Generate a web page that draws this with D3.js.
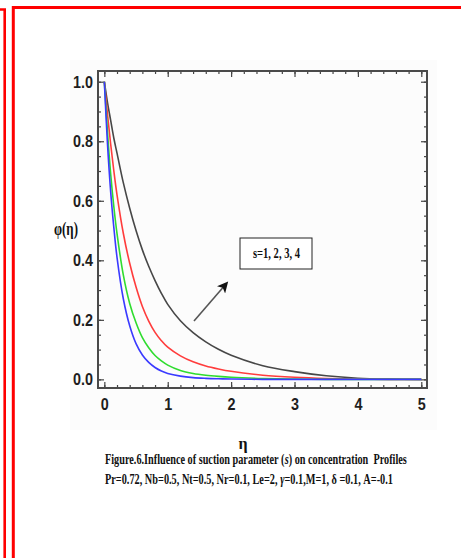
<!DOCTYPE html>
<html>
<head>
<meta charset="utf-8">
<script src="https://cdn.jsdelivr.net/npm/d3@7/dist/d3.min.js"></script>
<style>
	html, body { margin: 0; padding: 0; background: #fff; }
	svg { display: block; }
	.tick-label { font-family: "Liberation Sans Narrow", "Liberation Sans", "DejaVu Sans Condensed", sans-serif; font-weight: bold; fill: #1e1e1e; }
	.caption { font-family: "Liberation Serif", "DejaVu Serif", serif; font-weight: bold; fill: #111; }
</style>
</head>
<body>
<div id="chart"></div>
<script>
// eta grid and concentration profiles
const eta = [0, 0.05, 0.1, 0.15, 0.2, 0.3, 0.4, 0.5, 0.6, 0.7, 0.8, 0.9, 1.0, 1.2, 1.4, 1.6, 1.8, 2.0, 2.5, 3.0, 3.5, 4.0, 4.5, 5.0];
const phiBlue = [1, 0.79, 0.63, 0.51, 0.41, 0.27, 0.18, 0.12, 0.082, 0.057, 0.04, 0.028, 0.02, 0.011, 0.006, 0.0035, 0.002, 0.001, 0, 0, 0, 0, 0, 0];
const phiGreen = [1, 0.83, 0.69, 0.58, 0.49, 0.35, 0.255, 0.19, 0.14, 0.106, 0.08, 0.062, 0.048, 0.03, 0.02, 0.014, 0.01, 0.007, 0.003, 0.001, 0, 0, 0, 0];
const phiRed = [1, 0.89, 0.79, 0.70, 0.62, 0.49, 0.39, 0.31, 0.245, 0.196, 0.158, 0.13, 0.108, 0.079, 0.059, 0.045, 0.035, 0.027, 0.014, 0.007, 0.003, 0.001, 0, 0];
const phiBlack = [1, 0.93, 0.87, 0.81, 0.76, 0.66, 0.575, 0.50, 0.435, 0.38, 0.332, 0.289, 0.252, 0.197, 0.157, 0.126, 0.101, 0.081, 0.046, 0.026, 0.012, 0.004, 0.001, 0];

const xMajor = [0, 1, 2, 3, 4, 5];
const yMajor = [0, 0.2, 0.4, 0.6, 0.8, 1.0];
const xMinor = d3.range(0, 51, 2).map(d => d / 10);
const yMinor = d3.range(0, 21).map(d => d / 20);

const series = [
	{ name: "s=1", values: phiBlue, color: "#3a3aff" },
	{ name: "s=2", values: phiGreen, color: "#2fdc2f" },
	{ name: "s=3", values: phiRed, color: "#ff3c3c" },
	{ name: "s=4", values: phiBlack, color: "#474747" }
];

const W = 461, H = 558;
const margins = { left: 98, right: 427, top: 71, bottom: 388 };

const svg = d3.select("#chart")
	.append("svg")
	.attr("width", W)
	.attr("height", H)
	.attr("viewBox", `0 0 ${W} ${H}`);

// red page frame
svg.append("path")
	.attr("d", `M0,9.5 H4.7 V${H}`)
	.attr("fill", "none")
	.attr("stroke", "#ff0000")
	.attr("stroke-width", 2.6);
svg.append("path")
	.attr("d", `M13.3,${H} V7.6 H${W}`)
	.attr("fill", "none")
	.attr("stroke", "#ff0000")
	.attr("stroke-width", 3);

// faint plot backdrop
svg.append("rect")
	.attr("x", 70).attr("y", 60)
	.attr("width", 367).attr("height", 370)
	.attr("fill", "#fcfcfc");

const x = d3.scaleLinear().domain([-0.1, 5.09]).range([margins.left, margins.right]);
const y = d3.scaleLinear().domain([-0.029, 1.036]).range([margins.bottom, margins.top]);

svg.append("defs").html(`
	<clipPath id="plot-clip">
		<rect x="${margins.left}" y="${margins.top}" width="${margins.right - margins.left}" height="${margins.bottom - margins.top}"/>
	</clipPath>
	<marker id="arrow-head" viewBox="0 0 10 10" refX="7" refY="5" markerWidth="13" markerHeight="11" orient="auto" markerUnits="userSpaceOnUse">
		<path d="M0,0 L10,5 L0,10 L2.5,5 z" fill="#111"/>
	</marker>
`);

// axes with inward ticks
const axis = svg.append("g").attr("class", "axis-group");

function styleAxis(g) {
	g.select(".domain").remove();
	g.selectAll(".tick line").attr("stroke", "#444").attr("stroke-width", 1.2);
}

// minor ticks
axis.append("g").attr("transform", `translate(0,${margins.bottom})`)
	.call(d3.axisBottom(x).tickValues(xMinor).tickSize(-3).tickFormat(""))
	.call(styleAxis);
axis.append("g").attr("transform", `translate(0,${margins.top})`)
	.call(d3.axisTop(x).tickValues(xMinor).tickSize(-3).tickFormat(""))
	.call(styleAxis);
axis.append("g").attr("transform", `translate(${margins.left},0)`)
	.call(d3.axisLeft(y).tickValues(yMinor).tickSize(-3).tickFormat(""))
	.call(styleAxis);
axis.append("g").attr("transform", `translate(${margins.right},0)`)
	.call(d3.axisRight(y).tickValues(yMinor).tickSize(-3).tickFormat(""))
	.call(styleAxis);

// major ticks + labels
axis.append("g").attr("transform", `translate(0,${margins.bottom})`)
	.call(d3.axisBottom(x).tickValues(xMajor).tickSize(-6).tickPadding(10).tickFormat(d3.format("d")))
	.call(styleAxis)
	.selectAll(".tick text")
	.attr("class", "tick-label")
	.attr("font-size", 17)
	.attr("textLength", 8)
	.attr("lengthAdjust", "spacingAndGlyphs");
axis.append("g").attr("transform", `translate(0,${margins.top})`)
	.call(d3.axisTop(x).tickValues(xMajor).tickSize(-6).tickFormat(""))
	.call(styleAxis);
axis.append("g").attr("transform", `translate(${margins.left},0)`)
	.call(d3.axisLeft(y).tickValues(yMajor).tickSize(-6).tickPadding(5).tickFormat(d3.format(".1f")))
	.call(styleAxis)
	.selectAll(".tick text")
	.attr("class", "tick-label")
	.attr("font-size", 17)
	.attr("textLength", 20)
	.attr("lengthAdjust", "spacingAndGlyphs");
axis.append("g").attr("transform", `translate(${margins.right},0)`)
	.call(d3.axisRight(y).tickValues(yMajor).tickSize(-6).tickFormat(""))
	.call(styleAxis);

// frame
svg.append("rect")
	.attr("x", margins.left).attr("y", margins.top)
	.attr("width", margins.right - margins.left)
	.attr("height", margins.bottom - margins.top)
	.attr("fill", "none")
	.attr("stroke", "#4a4a4a")
	.attr("stroke-width", 2);

// curves
const line = d3.line()
	.x((d, i) => x(eta[i]))
	.y(d => y(d))
	.curve(d3.curveCatmullRom.alpha(0.5));

svg.append("g")
	.attr("class", "curves")
	.attr("clip-path", "url(#plot-clip)")
	.selectAll("path")
	.data(series.slice().reverse())
	.join("path")
	.attr("fill", "none")
	.attr("stroke", d => d.color)
	.attr("stroke-width", 1.6)
	.attr("d", d => line(d.values));

// condensed serif text built from pieces, squeezed to a given width
function condensedText(px, py, parts, width, size, anchor) {
	const g = svg.append("g");
	const inner = g.append("g");
	let cx = 0;
	parts.forEach(p => {
		const t = inner.append("text")
			.attr("class", "caption")
			.attr("x", cx).attr("y", 0)
			.attr("font-size", size)
			.attr("font-style", p.italic ? "italic" : null)
			.attr("xml:space", "preserve")
			.style("white-space", "pre")
			.text(p.text);
		cx += t.node().getComputedTextLength();
	});
	const sx = width / cx;
	const x0 = anchor === "middle" ? px - width / 2 : px;
	g.attr("transform", `translate(${x0},${py}) scale(${sx},1)`);
	return g;
}

// annotation box and arrow
svg.append("rect")
	.attr("x", 240).attr("y", 238)
	.attr("width", 72).attr("height", 31)
	.attr("fill", "#fff")
	.attr("stroke", "#222")
	.attr("stroke-width", 1);
condensedText(253, 258, [{ text: "s=1, 2, 3, 4" }], 47, 14);

svg.append("line")
	.attr("x1", 194).attr("y1", 321)
	.attr("x2", 226).attr("y2", 284)
	.attr("stroke", "#555")
	.attr("stroke-width", 1.6)
	.attr("marker-end", "url(#arrow-head)");

// axis titles
condensedText(66, 235, [{ text: "φ(η)" }], 24, 18, "middle");

svg.append("text")
	.attr("class", "caption")
	.attr("x", 243).attr("y", 449)
	.attr("text-anchor", "middle")
	.attr("font-size", 16)
	.text("η");

// figure caption
condensedText(105, 464, [
	{ text: "Figure.6.Influence of suction parameter (" },
	{ text: "s", italic: true },
	{ text: ") on concentration  Profiles" }
], 302, 15);

condensedText(105, 484, [
	{ text: "Pr=0.72, Nb=0.5, Nt=0.5, Nr=0.1, Le=2, " },
	{ text: "γ", italic: true },
	{ text: "=0.1,M=1, δ =0.1, A=-0.1" }
], 288, 15);
</script>
</body>
</html>
